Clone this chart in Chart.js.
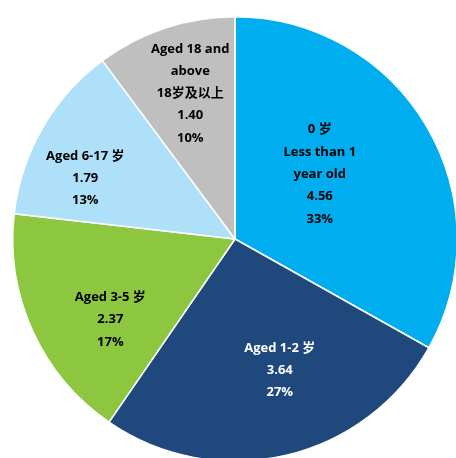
<!DOCTYPE html>
<html>
<head>
<meta charset="utf-8">
<script src="https://cdn.jsdelivr.net/npm/chart.js@4.4.0/dist/chart.umd.min.js"></script>
<style>
html,body{margin:0;padding:0;background:#fff;overflow:hidden;}
#wrap{position:relative;width:458px;height:462px;}
</style>
</head>
<body>
<div id="wrap"><canvas id="c"></canvas></div>
<script>
const categories = [
  ["0 岁", "Less than 1", "year old"],
  ["Aged 1-2 岁"],
  ["Aged 3-5 岁"],
  ["Aged 6-17 岁"],
  ["Aged 18 and", "above", "18岁及以上"]
];
const values = [4.56, 3.64, 2.37, 1.79, 1.40];
const percentLabels = ["33%", "27%", "17%", "13%", "10%"];
const valueLabels = ["4.56", "3.64", "2.37", "1.79", "1.40"];

const colors = ["#00AEEF", "#1F497D", "#8DC63F", "#AEE1F9", "#BFBFBF"];
const textColors = ["#000", "#fff", "#000", "#000", "#000"];
// label placement: angle (deg clockwise from top) and radius fraction
const labelPlace = [[52.6,0.48],[161.2,0.625],[237.1,0.668],[292.1,0.727],[342.9,0.685]];

const labelPlugin = {
  id: 'sliceLabels',
  afterDatasetsDraw(chart) {
    const ctx = chart.ctx;
    const meta = chart.getDatasetMeta(0);
    ctx.save();
    ctx.font = 'bold 13px "Open Sans", "Noto Sans CJK SC", sans-serif';
    ctx.textAlign = 'center';
    ctx.textBaseline = 'middle';
    meta.data.forEach((arc, i) => {
      const lines = categories[i].concat([valueLabels[i], percentLabels[i]]);
      const a = labelPlace[i][0] * Math.PI / 180;
      const r = arc.outerRadius * labelPlace[i][1];
      const x = arc.x + r * Math.sin(a);
      const y = arc.y - r * Math.cos(a);
      const lh = 22.3;
      const y0 = y - (lines.length - 1) * lh / 2;
      ctx.fillStyle = textColors[i];
      lines.forEach((t, k) => ctx.fillText(t, x, y0 + k * lh));
    });
    ctx.restore();
  }
};

new Chart(document.getElementById('c'), {
  type: 'pie',
  data: {
    labels: categories.map(c => c.join(' ')),
    datasets: [{
      data: values,
      backgroundColor: colors,
      borderColor: '#ffffff',
      borderWidth: 1.5
    }]
  },
  options: {
    responsive: true,
    maintainAspectRatio: false,
    animation: false,
    layout: { padding: { left: 12, right: 0, top: 16, bottom: 0 } },
    plugins: { legend: { display: false }, tooltip: { enabled: false } }
  },
  plugins: [labelPlugin]
});
</script>
</body>
</html>
